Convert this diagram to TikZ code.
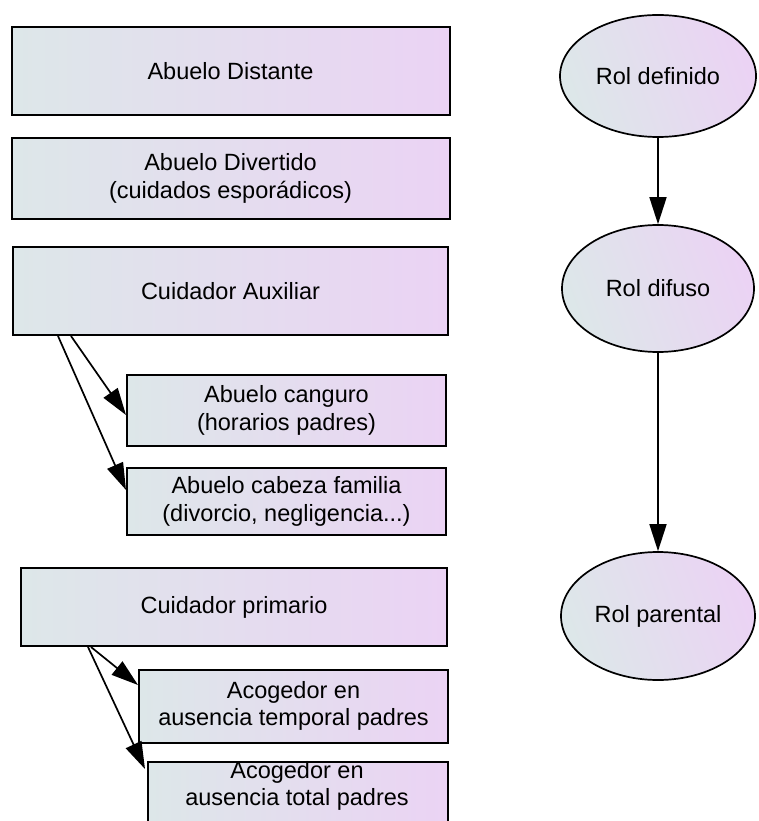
\documentclass[tikz,border=0pt]{standalone}
\usepackage{fontspec}
\setmainfont{Liberation Sans}
\usetikzlibrary{arrows.meta,shapes.geometric}
\definecolor{gLeft}{RGB}{221,231,233}
\definecolor{gRight}{RGB}{235,211,244}
\begin{document}
\begin{tikzpicture}[x=1pt,y=-1pt,
  every node/.style={font=\fontsize{23.5}{27.5}\selectfont, align=center, text=black},
  box/.style={draw=black, line width=2pt, rectangle, inner sep=0pt,
    left color=gLeft, right color=gRight},
  role/.style={draw=black, line width=1.7pt, ellipse, inner sep=0pt,
    left color=gLeft, right color=gRight, shading angle=110},
  arr/.style={line width=1.7pt, -{Triangle[length=27pt,width=17pt]}}]
\useasboundingbox (0,0) rectangle (758,821);
\clip (0,0) rectangle (758,821);

% left column: types of grandparent
\node[box, minimum width=438pt, minimum height=88pt] (dist) at (230.5,71) {Abuelo Distante};
\node[box, minimum width=438pt, minimum height=81pt] (div) at (230.5,178.5) {Abuelo Divertido\\(cuidados esporádicos)};
\node[box, minimum width=435pt, minimum height=88pt] (aux) at (230.5,291) {Cuidador Auxiliar};
\node[box, minimum width=319pt, minimum height=71pt] (cang) at (286.5,410.5) {Abuelo canguro\\(horarios padres)};
\node[box, minimum width=319pt, minimum height=67pt] (cab) at (286.5,501.5) {Abuelo cabeza familia\\(divorcio, negligencia...)};
\node[box, minimum width=426pt, minimum height=78pt] (prim) at (234,607) {Cuidador primario};
\node[box, minimum width=309pt, minimum height=73pt] (temp) at (293.5,706) {Acogedor en\\ausencia temporal padres};
\node[box, minimum width=300pt, minimum height=100pt, anchor=north west] (tot) at (147,761) {};
\node (totlbl) at (297,786) {Acogedor en\\ausencia total padres};

% right column: roles
\node[role, minimum width=196pt, minimum height=122pt] (def) at (658,76) {Rol definido};
\node[role, minimum width=192pt, minimum height=127pt] (difu) at (658,288.5) {Rol difuso};
\node[role, minimum width=194pt, minimum height=128pt] (par) at (658,616) {Rol parental};

% connectors
\draw[arr] ([xshift=59pt]aux.south west) -- ([yshift=-4.5pt]cang.west);
\draw[arr] ([xshift=46pt]aux.south west) -- ([yshift=11.5pt]cab.west);
\draw[arr] ([xshift=71pt]prim.south west) -- ([yshift=21pt]temp.west);
\draw[arr] ([xshift=68pt]prim.south west) -- ([xshift=-2pt,yshift=-8pt]tot.north west);
\draw[arr] (def.south) -- (difu.north);
\draw[arr] (difu.south) -- (par.north);
\end{tikzpicture}
\end{document}
